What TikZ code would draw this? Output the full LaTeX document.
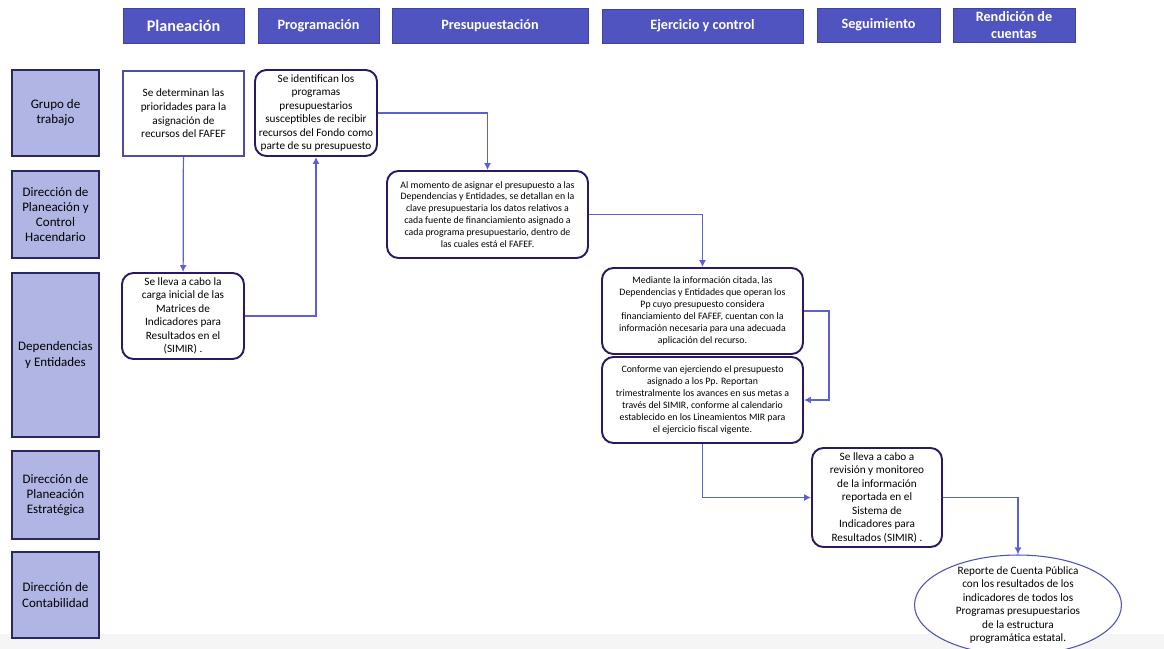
\documentclass[tikz,border=0pt]{standalone}
\usepackage{fontspec}
\setmainfont{Carlito}
\usepackage{tikz}
\usetikzlibrary{arrows.meta,shapes.geometric}

\definecolor{hdrblue}{RGB}{80,84,192}
\definecolor{lanefill}{RGB}{176,181,228}
\definecolor{navy}{RGB}{42,40,98}
\definecolor{boxline}{RGB}{44,24,98}
\definecolor{flowblue}{RGB}{92,96,212}

\begin{document}
\begin{tikzpicture}
	[x=0.02cm,y=-0.02cm,
	header/.style={rectangle,fill=hdrblue,draw=hdrblue!80!black,line width=0.5pt,text=white,font=\fontsize{8.1}{9.6}\selectfont\bfseries,align=center,inner sep=0pt},
	lane/.style={rectangle,fill=lanefill,draw=navy,line width=1.4pt,font=\fontsize{7.4}{8.6}\selectfont,align=center,minimum width=1.74cm,inner sep=0pt},
	sqbox/.style={rectangle,draw=flowblue!80!black,line width=0.6pt,font=\fontsize{6.4}{7.8}\selectfont,align=center,inner sep=0pt},
	task/.style={rectangle,rounded corners=6.5pt,draw=boxline,line width=1.1pt,fill=white,font=\fontsize{6.4}{7.7}\selectfont,align=center,inner sep=0pt},
	small/.style={font=\fontsize{5.6}{6.8}\selectfont},
	flow/.style={draw=flowblue,line width=0.7pt,-{Latex[length=4pt,width=4pt]}}]
	\useasboundingbox (0,0) rectangle (1164,649);
	\fill[black!4] (0,634) rectangle (1164,649);
	
	\node[header,font=\fontsize{9.2}{11}\selectfont\bfseries,minimum width=2.42cm,minimum height=0.7cm] (plan) at (183.5,25.5) {Planeación};
	\node[header,minimum width=2.42cm,minimum height=0.7cm] (prog) at (318.5,25.5) {Programación};
	\node[header,minimum width=3.92cm,minimum height=0.7cm] (pres) at (490,25.5) {Presupuestación};
	\node[header,minimum width=4.02cm,minimum height=0.68cm] (ejer) at (702.5,26) {Ejercicio y control};
	\node[header,minimum width=2.46cm,minimum height=0.68cm] (segu) at (878.5,25) {Seguimiento};
	\node[header,minimum width=2.44cm,minimum height=0.68cm] (rend) at (1014,25) {Rendición de\\cuentas};
	
	\node[lane,minimum height=1.72cm] (grupo) at (55.5,113) {Grupo de\\trabajo};
	\node[lane,minimum height=1.74cm] (dpch) at (55.5,214.5) {Dirección de\\Planeación y\\Control\\Hacendario};
	\node[lane,minimum height=3.28cm] (depen) at (55.5,355) {Dependencias\\y Entidades};
	\node[lane,minimum height=1.76cm] (dpe) at (55.5,495) {Dirección de\\Planeación\\Estratégica};
	\node[lane,minimum height=1.72cm] (conta) at (55.5,595) {Dirección de\\Contabilidad};
	
	\node[sqbox,minimum width=2.42cm,minimum height=1.7cm] (prior) at (183.5,113.5) {Se determinan las\\prioridades para la\\asignación de\\recursos del FAFEF};
	\node[task,minimum width=2.44cm,minimum height=1.72cm] (ident) at (316,113) {Se identifican los\\programas\\presupuestarios\\susceptibles de recibir\\recursos del Fondo como\\parte de su presupuesto};
	\node[task,small,minimum width=4.02cm,minimum height=1.74cm] (asign) at (487.5,214.5) {Al momento de asignar el presupuesto a las\\Dependencias y Entidades, se detallan en la\\clave presupuestaria los datos relativos a\\cada fuente de financiamiento asignado a\\cada programa presupuestario, dentro de\\las cuales está el FAFEF.};
	\node[task,minimum width=2.44cm,minimum height=1.72cm] (carga) at (183,316) {Se lleva a cabo la\\carga inicial de las\\Matrices de\\Indicadores para\\Resultados en el\\(SIMIR) .};
	\node[task,small,minimum width=4.02cm,minimum height=1.72cm] (media) at (702.5,311) {Mediante la información citada, las\\Dependencias y Entidades que operan los\\Pp cuyo presupuesto considera\\financiamiento del FAFEF, cuentan con la\\información necesaria para una adecuada\\aplicación del recurso.};
	\node[task,small,minimum width=4.02cm,minimum height=1.72cm] (conf) at (702.5,400) {Conforme van ejerciendo el presupuesto\\asignado a los Pp. Reportan\\trimestralmente los avances en sus metas a\\través del SIMIR, conforme al calendario\\establecido en los Lineamientos MIR para\\el ejercicio fiscal vigente.};
	\node[task,minimum width=2.6cm,minimum height=1.98cm] (revis) at (877,497.5) {Se lleva a cabo a\\revisión y monitoreo\\de la información\\reportada en el\\Sistema de\\Indicadores para\\Resultados (SIMIR) .};
	\node[ellipse,draw=flowblue!85!black,line width=0.6pt,fill=white,minimum width=4.14cm,minimum height=2cm,inner sep=0pt] (rep) at (1018,605) {};
	\node[font=\fontsize{6.4}{7.7}\selectfont,align=center,inner sep=0pt] (reptext) at (rep.center) {Reporte de Cuenta Pública\\con los resultados de los\\indicadores de todos los\\Programas presupuestarios\\de la estructura\\programática estatal.};
	
	\draw[flow] (prior) -- (carga);
	\foreach \from/\to in {carga.east/ident.south, ident.east/asign.north, asign.east/media.north, revis.east/rep.north}
	\draw[flow] (\from) -| (\to);
	\draw[flow] (media.east) -- ++(25,0) |- (conf.east);
	\draw[flow] (conf.south) |- (revis.west);
\end{tikzpicture}
\end{document}
